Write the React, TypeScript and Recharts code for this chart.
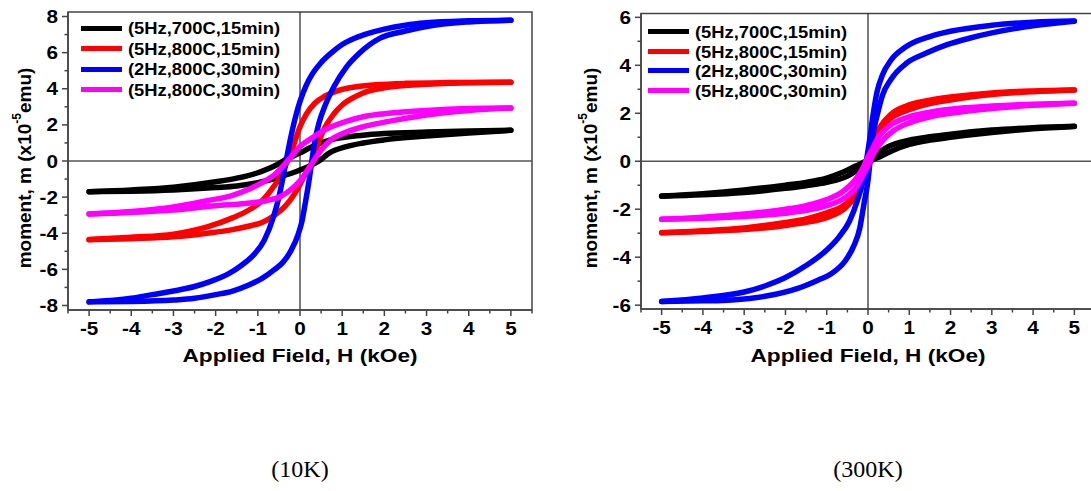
import React from 'react';
import {LineChart, Line, XAxis, YAxis, ReferenceLine, ReferenceArea, Legend} from 'recharts';

// loop branches, [H (kOe), m (x1e-5 emu)]; "up" = descending field branch, "down" = ascending
const black10kUp = [[-5, -1.7], [-4, -1.6], [-3, -1.45], [-2, -1.15], [-1.5, -0.95], [-1, -0.65], [-0.5, -0.15], [-0.4, 0], [0, 0.45], [0.3, 0.8], [0.7, 1.15], [1.5, 1.43], [2, 1.52], [3, 1.6], [4, 1.66], [5, 1.7]];
const black10kDown = [[-5, -1.7], [-4, -1.67], [-3, -1.6], [-2, -1.47], [-1.5, -1.38], [-1, -1.2], [-0.5, -0.9], [0, -0.5], [0.45, 0], [0.7, 0.45], [1.1, 0.8], [1.5, 1.0], [2, 1.17], [3, 1.38], [4, 1.55], [5, 1.7]];
const red10kUp = [[-5, -4.35], [-4, -4.22], [-3, -4.05], [-2.2, -3.65], [-1.6, -3.15], [-1.2, -2.7], [-0.9, -2.2], [-0.65, -1.5], [-0.45, -0.8], [-0.3, 0], [-0.15, 0.9], [0, 1.9], [0.15, 2.6], [0.35, 3.2], [0.6, 3.6], [0.9, 3.9], [1.3, 4.1], [1.8, 4.22], [2.5, 4.3], [3.5, 4.34], [5, 4.36]];
const red10kDown = [[-5, -4.36], [-4, -4.3], [-3, -4.2], [-2.2, -4.0], [-1.6, -3.8], [-1.2, -3.6], [-0.9, -3.4], [-0.6, -3.0], [-0.35, -2.5], [-0.15, -1.9], [0, -1.3], [0.15, -0.6], [0.3, 0], [0.45, 1.1], [0.6, 1.9], [0.8, 2.6], [1.0, 3.1], [1.3, 3.55], [1.6, 3.85], [2.0, 4.05], [2.5, 4.18], [3.5, 4.3], [5, 4.36]];
const blue10kUp = [[-5, -7.8], [-4, -7.6], [-3.5, -7.4], [-3, -7.2], [-2.5, -6.95], [-2.1, -6.65], [-1.7, -6.25], [-1.4, -5.8], [-1.1, -5.2], [-0.85, -4.4], [-0.63, -3.1], [-0.5, -2.0], [-0.42, -1.1], [-0.33, 0], [-0.22, 1.3], [-0.1, 2.5], [0, 3.3], [0.15, 4.2], [0.3, 4.85], [0.5, 5.45], [0.75, 6.0], [1, 6.45], [1.3, 6.8], [1.6, 7.05], [2, 7.3], [2.5, 7.52], [3, 7.65], [4, 7.76], [5, 7.8]];
const blue10kDown = [[-5, -7.8], [-4, -7.78], [-3, -7.7], [-2.5, -7.6], [-2, -7.4], [-1.6, -7.2], [-1.2, -6.85], [-0.9, -6.5], [-0.6, -6.0], [-0.4, -5.6], [-0.2, -4.9], [-0.05, -4.1], [0.05, -3.3], [0.12, -2.4], [0.2, -1.3], [0.28, 0], [0.36, 1.2], [0.45, 2.1], [0.6, 3.1], [0.8, 4.1], [1.1, 5.2], [1.4, 5.95], [1.9, 6.8], [2.5, 7.2], [3, 7.45], [4, 7.7], [5, 7.8]];
const pink10kUp = [[-5, -2.93], [-4, -2.8], [-3, -2.55], [-2.2, -2.2], [-1.6, -1.9], [-1.2, -1.55], [-0.9, -1.2], [-0.6, -0.75], [-0.35, -0.15], [-0.2, 0.25], [0, 0.8], [0.3, 1.3], [0.7, 1.85], [1.1, 2.2], [1.5, 2.45], [2, 2.62], [3, 2.8], [4, 2.9], [5, 2.93]];
const pink10kDown = [[-5, -2.93], [-4, -2.85], [-3, -2.72], [-2, -2.48], [-1.3, -2.35], [-0.8, -2.2], [-0.45, -1.95], [-0.2, -1.55], [0, -1.1], [0.2, -0.45], [0.35, 0.1], [0.5, 0.6], [0.7, 1.1], [1.1, 1.6], [1.5, 1.9], [2, 2.15], [3, 2.55], [4, 2.8], [5, 2.93]];

const black300kUp = [[-5, -1.45], [-4, -1.35], [-3, -1.2], [-2, -1.0], [-1.5, -0.88], [-1, -0.7], [-0.6, -0.45], [-0.3, -0.2], [-0.05, 0], [0.2, 0.3], [0.5, 0.62], [1, 0.88], [1.5, 1.02], [2, 1.13], [3, 1.3], [4, 1.4], [5, 1.46]];
const black300kDown = [[-5, -1.46], [-4, -1.4], [-3, -1.3], [-2, -1.13], [-1.5, -1.02], [-1, -0.88], [-0.5, -0.62], [-0.2, -0.3], [0.05, 0], [0.3, 0.2], [0.6, 0.45], [1, 0.7], [1.5, 0.88], [2, 1.0], [3, 1.2], [4, 1.35], [5, 1.45]];
const red300kUp = [[-5, -2.98], [-4, -2.9], [-3, -2.78], [-2, -2.55], [-1.5, -2.4], [-1, -2.15], [-0.6, -1.85], [-0.3, -1.35], [-0.15, -0.8], [-0.04, 0], [0.1, 0.75], [0.3, 1.45], [0.55, 1.95], [1, 2.35], [1.5, 2.55], [2, 2.68], [3, 2.85], [4, 2.93], [5, 2.97]];
const red300kDown = [[-5, -2.98], [-4, -2.93], [-3, -2.85], [-2, -2.68], [-1.5, -2.55], [-1, -2.35], [-0.55, -1.95], [-0.3, -1.45], [-0.1, -0.75], [0.04, 0], [0.15, 0.8], [0.3, 1.35], [0.6, 1.85], [1, 2.15], [1.5, 2.4], [2, 2.55], [3, 2.78], [4, 2.9], [5, 2.97]];
const blue300kUp = [[-5, -5.85], [-4, -5.7], [-3, -5.45], [-2.5, -5.2], [-2, -4.85], [-1.5, -4.35], [-1, -3.7], [-0.7, -3.15], [-0.45, -2.5], [-0.25, -1.6], [-0.12, -0.8], [-0.04, 0], [0.04, 0.9], [0.12, 1.9], [0.22, 2.9], [0.35, 3.6], [0.55, 4.2], [0.9, 4.75], [1.5, 5.2], [2, 5.42], [3, 5.67], [4, 5.8], [5, 5.85]];
const blue300kDown = [[-5, -5.85], [-4, -5.82], [-3.3, -5.78], [-2.5, -5.63], [-1.7, -5.3], [-1.2, -4.95], [-0.9, -4.7], [-0.55, -4.15], [-0.35, -3.55], [-0.2, -2.8], [-0.1, -1.8], [0, -0.8], [0.05, 0], [0.12, 1.1], [0.22, 1.9], [0.35, 2.75], [0.55, 3.4], [0.94, 4.1], [1.4, 4.5], [1.9, 4.85], [2.5, 5.15], [3, 5.35], [4, 5.65], [5, 5.84]];
const pink300kUp = [[-5, -2.42], [-4, -2.33], [-3, -2.2], [-2, -2.0], [-1.5, -1.85], [-1, -1.6], [-0.6, -1.25], [-0.3, -0.75], [-0.1, -0.2], [-0.05, 0], [0.1, 0.5], [0.25, 1.0], [0.5, 1.45], [1, 1.85], [1.5, 2.05], [2, 2.17], [3, 2.3], [4, 2.38], [5, 2.42]];
const pink300kDown = [[-5, -2.42], [-4, -2.38], [-3, -2.3], [-2, -2.17], [-1.5, -2.05], [-1, -1.85], [-0.5, -1.45], [-0.25, -1.0], [-0.1, -0.5], [0.05, 0], [0.1, 0.2], [0.3, 0.75], [0.6, 1.25], [1, 1.6], [1.5, 1.85], [2, 2.0], [3, 2.2], [4, 2.33], [5, 2.42]];

const seriesNames = ['(5Hz,700C,15min)', '(5Hz,800C,15min)', '(2Hz,800C,30min)', '(5Hz,800C,30min)'];
const seriesColors = ['#000000', '#ff0000', '#0000ff', '#ff00ff'];

const xTicks = [-5.5, -5, -4.5, -4, -3.5, -3, -2.5, -2, -1.5, -1, -0.5, 0, 0.5, 1, 1.5, 2, 2.5, 3, 3.5, 4, 4.5, 5, 5.5];
const xLabels = [-5, -4, -3, -2, -1, 0, 1, 2, 3, 4, 5];
const yTicks10k = [-8, -7, -6, -5, -4, -3, -2, -1, 0, 1, 2, 3, 4, 5, 6, 7, 8];
const yLabels10k = [-8, -6, -4, -2, 0, 2, 4, 6, 8];
const yTicks300k = [-6, -5, -4, -3, -2, -1, 0, 1, 2, 3, 4, 5, 6];
const yLabels300k = [-6, -4, -2, 0, 2, 4, 6];

const FONT = '"Liberation Sans", Arial, sans-serif';
const AX = '#444';

const pts = (arr: number[][]) => arr.map(p => ({h: p[0], m: p[1]}));

const makeXTick = (labels: number[]) => (props: any) => {
    const {x, y, payload} = props;
    const major = labels.includes(payload.value);
    return (
        <g>
            <line x1={x} x2={x} y1={y} y2={y + (major ? 6 : 3.5)} stroke={AX} strokeWidth={1.5}/>
            {major && <text transform={`translate(${x},${y + 25}) scale(1.15,1)`} textAnchor="middle" fontSize={18}
                            fontWeight="bold" fontFamily={FONT} fill="#000">{payload.value}</text>}
        </g>
    );
};

const makeYTick = (labels: number[]) => (props: any) => {
    const {x, y, payload} = props;
    const major = labels.includes(payload.value);
    return (
        <g>
            <line x1={x} x2={x - (major ? 6 : 3.5)} y1={y} y2={y} stroke={AX} strokeWidth={1.5}/>
            {major && <text transform={`translate(${x - 10},${y + 6.5}) scale(1.15,1)`} textAnchor="end" fontSize={18}
                            fontWeight="bold" fontFamily={FONT} fill="#000">{payload.value}</text>}
        </g>
    );
};

const makeLegend = (rowH: number) => () => (
    <div style={{fontFamily: FONT, fontWeight: 'bold', fontSize: 16, color: '#000'}}>
        {seriesNames.map((name, i) => (
            <div key={name} style={{display: 'flex', alignItems: 'center', height: rowH}}>
                <div style={{width: 41, height: 5, background: seriesColors[i], marginRight: 6}}/>
                <svg width={156} height={rowH}>
                    <text x={0} y={rowH / 2 + 6} fontSize={16} fontWeight="bold" fontFamily={FONT}
                          textLength={152} lengthAdjust="spacingAndGlyphs">{name}</text>
                </svg>
            </div>
        ))}
    </div>
);

type LoopSet = number[][][];

const Panel = (p: {
    left: number, width: number, margin: any, yDomain: number[], yTicks: number[], yLabels: number[],
    loops: LoopSet, legendPos: any, rowH: number, titleX: number, plotCx: number,
}) => (
    <div style={{position: 'absolute', left: p.left, top: 0}}>
        <LineChart width={p.width} height={360} margin={p.margin}>
            <XAxis type="number" dataKey="h" domain={[-5.5, 5.5]} ticks={xTicks} interval={0} allowDataOverflow
                   height={30} tickSize={0} tickMargin={0} tickLine={false} stroke={AX} strokeWidth={1.5}
                   tick={makeXTick(xLabels)}/>
            <YAxis type="number" domain={p.yDomain} ticks={p.yTicks} interval={0} allowDataOverflow
                   width={60} tickSize={0} tickMargin={0} tickLine={false} stroke={AX} strokeWidth={1.5}
                   tick={makeYTick(p.yLabels)}/>
            <ReferenceArea x1={-5.5} x2={5.5} y1={p.yDomain[0]} y2={p.yDomain[1]} fill="none" fillOpacity={0}
                           stroke={AX} strokeWidth={1.5}/>
            <ReferenceLine x={0} stroke="#222" strokeWidth={1.2}/>
            <ReferenceLine y={0} stroke="#555" strokeWidth={1.5}/>
            {p.loops.map((branch, i) => (
                <Line key={i} data={pts(branch)} dataKey="m" type="monotone" stroke={seriesColors[Math.floor(i / 2)]}
                      strokeWidth={5.5} strokeLinecap="round" dot={false} isAnimationActive={false}
                      legendType="none"/>
            ))}
            <Legend layout="vertical" align="center" verticalAlign="middle" content={makeLegend(p.rowH)}
                    wrapperStyle={p.legendPos}/>
        </LineChart>
        <svg style={{position: 'absolute', left: 0, top: 0, pointerEvents: 'none'}} width={p.width} height={380}>
            <text x={p.titleX} y={168} transform={`rotate(-90, ${p.titleX}, 168)`} textAnchor="middle"
                  dominantBaseline="central" fontSize={19} fontWeight="bold" fontFamily={FONT} fill="#000">
                moment, m (x10<tspan dy={-7} fontSize={12}>-5</tspan><tspan dy={7}>emu)</tspan>
            </text>
            <text x={p.plotCx} y={362} textAnchor="middle" fontSize={19} fontWeight="bold"
                  fontFamily={FONT} fill="#000" textLength={235} lengthAdjust="spacingAndGlyphs">
                Applied Field, H (kOe)
            </text>
        </svg>
    </div>
);

export default function App() {
    return (
        <div style={{position: 'absolute', left: 0, top: 0, width: 1091, height: 491, overflow: 'hidden', background: '#fff'}}>
            <Panel left={0} width={560} margin={{top: 12, right: 28, bottom: 20, left: 8}}
                   yDomain={[-8.25, 8.25]} yTicks={yTicks10k} yLabels={yLabels10k}
                   loops={[black10kUp, black10kDown, red10kUp, red10kDown, blue10kUp, blue10kDown, pink10kUp, pink10kDown]}
                   legendPos={{left: 81, top: 18, width: 210, height: 84}} rowH={20.5}
                   titleX={24} plotCx={300}/>
            <Panel left={560} width={560} margin={{top: 13.5, right: 25, bottom: 21, left: 21}}
                   yDomain={[-6.16, 6.16]} yTicks={yTicks300k} yLabels={yLabels300k}
                   loops={[black300kUp, black300kDown, red300kUp, red300kDown, blue300kUp, blue300kDown, pink300kUp, pink300kDown]}
                   legendPos={{left: 88, top: 22, width: 210, height: 80}} rowH={19.5}
                   titleX={30} plotCx={308}/>
            <div style={{position: 'absolute', left: 200, width: 200, top: 452, textAlign: 'center',
                fontFamily: '"Liberation Serif", "Times New Roman", serif', fontSize: 24, lineHeight: '34px'}}>(10K)</div>
            <div style={{position: 'absolute', left: 768, width: 200, top: 452, textAlign: 'center',
                fontFamily: '"Liberation Serif", "Times New Roman", serif', fontSize: 24, lineHeight: '34px'}}>(300K)</div>
        </div>
    );
}
